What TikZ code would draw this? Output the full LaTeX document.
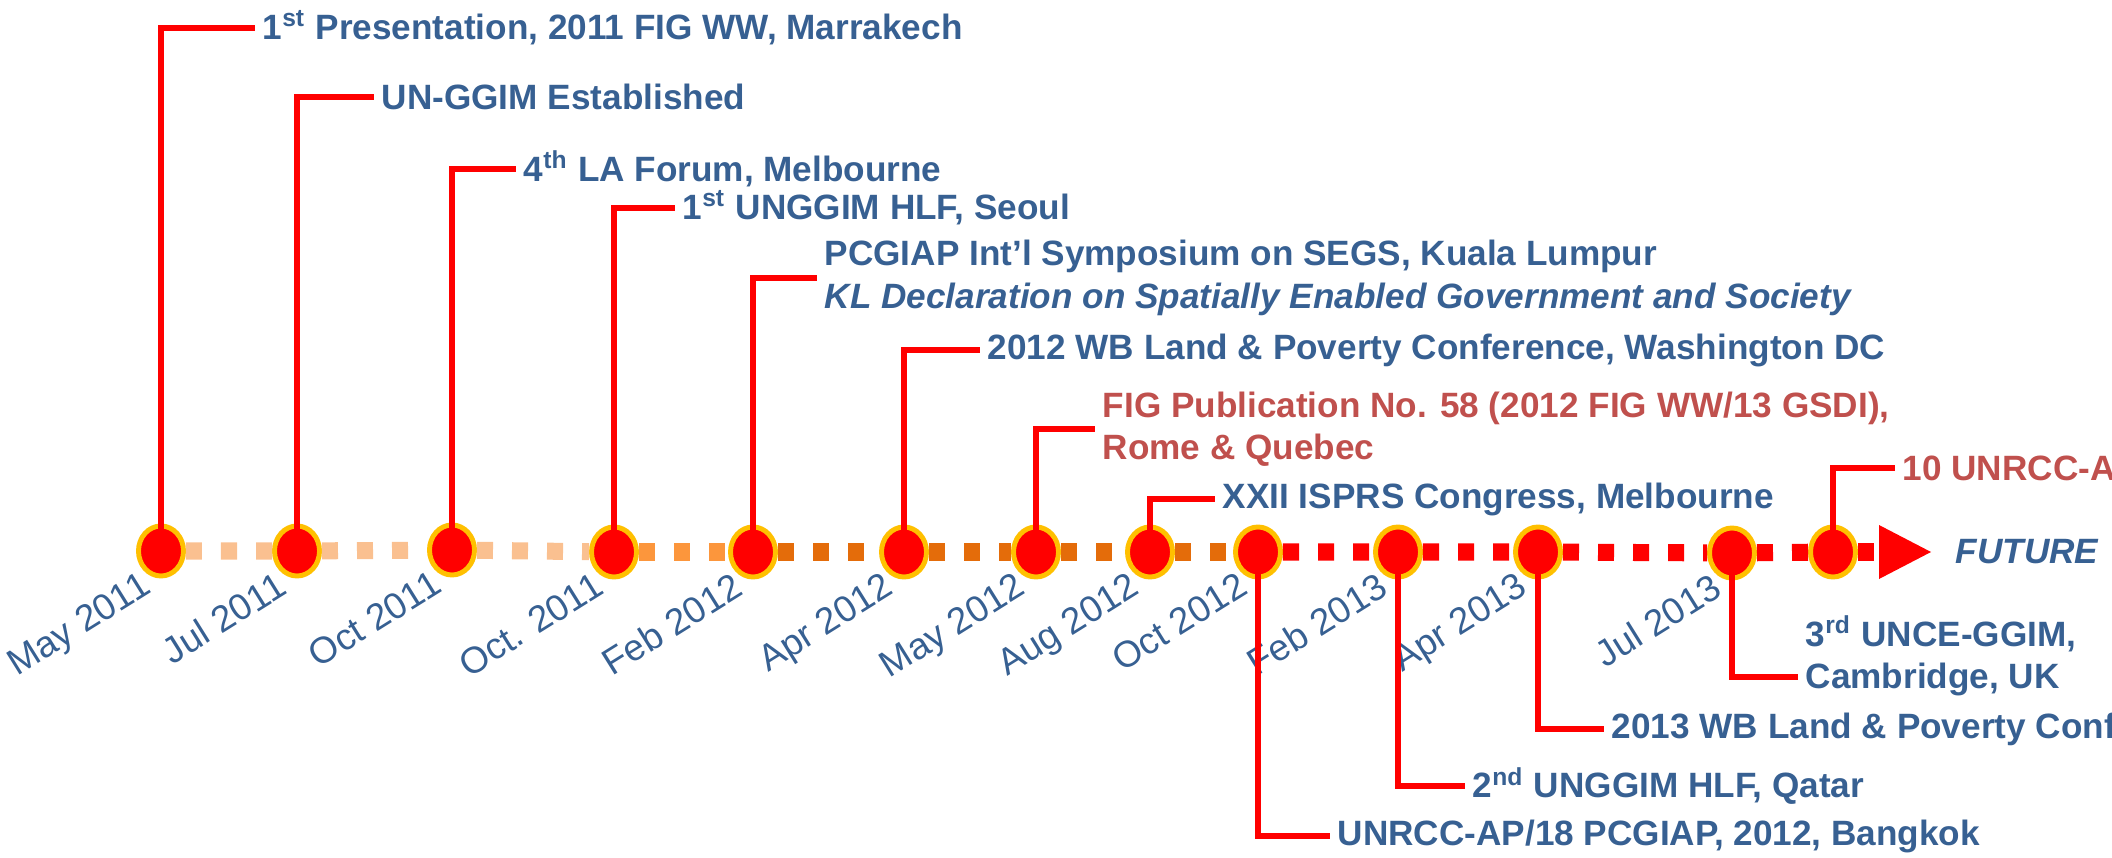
\documentclass[tikz,border=0pt]{standalone}
\usepackage{fontspec}
\setmainfont{Liberation Sans}
\usepackage{tikz}
\usetikzlibrary{shapes.geometric}

\definecolor{TextBlue}{RGB}{55,96,146}
\definecolor{TextRed}{RGB}{192,80,77}
\definecolor{RingGold}{RGB}{255,192,0}
\definecolor{Peach}{RGB}{250,192,144}
\definecolor{LightOrange}{RGB}{252,150,60}
\definecolor{DarkOrange}{RGB}{228,108,10}

\begin{document}
\begin{tikzpicture}[x=0.01cm, y=-0.01cm]
    \tikzstyle{event-dot}=[ellipse, draw=RingGold, fill=red, line width=1.4pt, minimum width=0.45cm, minimum height=0.5cm, inner sep=0pt]
    \tikzstyle{event-text}=[anchor=west, inner sep=2pt, align=left, font=\fontsize{10}{12}\selectfont\bfseries, text=TextBlue]
    \tikzstyle{date-text}=[anchor=north east, inner sep=0pt, rotate=32, font=\fontsize{10.5}{12}\selectfont, text=TextBlue]
    \tikzstyle{timeline}=[line width=0.17cm, dash pattern=on 0.16cm off 0.19cm]
    \tikzstyle{link}=[red, line width=0.065cm]

    \useasboundingbox (0,0) rectangle (2112,858);

    % milestones
    \node[event-dot] (may-2011) at (161,551) {};
    \node[event-dot] (jul-2011) at (297,551) {};
    \node[event-dot] (oct-2011) at (452,550) {};
    \node[event-dot] (oct-2011-b) at (614,552) {};
    \node[event-dot] (feb-2012) at (753,552) {};
    \node[event-dot] (apr-2012) at (904,552) {};
    \node[event-dot] (may-2012) at (1036,552) {};
    \node[event-dot] (aug-2012) at (1150,552) {};
    \node[event-dot] (oct-2012) at (1258,552) {};
    \node[event-dot] (feb-2013) at (1398,552) {};
    \node[event-dot] (apr-2013) at (1538,552) {};
    \node[event-dot] (jul-2013) at (1732,553) {};
    \node[event-dot] (next-event) at (1833,552) {};

    % dashed time axis
    \draw[timeline, Peach] (may-2011) -- (jul-2011) (jul-2011) -- (oct-2011) (oct-2011) -- (oct-2011-b);
    \draw[timeline, LightOrange] (oct-2011-b) -- (feb-2012);
    \draw[timeline, DarkOrange] (feb-2012) -- (apr-2012) (apr-2012) -- (may-2012) (may-2012) -- (aug-2012) (aug-2012) -- (oct-2012);
    \draw[timeline, red] (oct-2012) -- (feb-2013) (feb-2013) -- (apr-2013) (apr-2013) -- (jul-2013) (jul-2013) -- (next-event);
    \coordinate (future-tip) at (1879,552);
    \draw[timeline, red] (next-event) -- (future-tip);
    \fill[red] (1879,525) -- (1931,552) -- (1879,579) -- cycle;
    \node[event-text, font=\fontsize{10}{12}\selectfont\bfseries\itshape] (future) at (1948,552) {FUTURE};

    % dates
    \node[date-text] (date-may-2011) at (139,569) {May 2011};
    \node[date-text] (date-jul-2011) at (275,569) {Jul 2011};
    \node[date-text] (date-oct-2011) at (430,568) {Oct 2011};
    \node[date-text] (date-oct-2011-b) at (592,570) {Oct. 2011};
    \node[date-text] (date-feb-2012) at (731,570) {Feb 2012};
    \node[date-text] (date-apr-2012) at (882,570) {Apr 2012};
    \node[date-text] (date-may-2012) at (1014,570) {May 2012};
    \node[date-text] (date-aug-2012) at (1128,570) {Aug 2012};
    \node[date-text] (date-oct-2012) at (1236,570) {Oct 2012};
    \node[date-text] (date-feb-2013) at (1376,570) {Feb 2013};
    \node[date-text] (date-apr-2013) at (1516,570) {Apr 2013};
    \node[date-text] (date-jul-2013) at (1710,571) {Jul 2013};

    % events above the axis
    \node[event-text] (marrakech) at (255,28) {1\textsuperscript{st} Presentation, 2011 FIG WW, Marrakech};
    \node[event-text] (un-ggim) at (374,97) {UN-GGIM Established};
    \node[event-text] (la-forum) at (516,169) {4\textsuperscript{th} LA Forum, Melbourne};
    \node[event-text] (hlf-seoul) at (675,208) {1\textsuperscript{st} UNGGIM HLF, Seoul};
    \node[event-text] (kuala-lumpur) at (817,278) {PCGIAP Int’l Symposium on SEGS, Kuala Lumpur\\\textit{KL Declaration on Spatially Enabled Government and Society}};
    \node[event-text] (washington) at (980,350) {2012 WB Land \& Poverty Conference, Washington DC};
    \node[event-text, text=TextRed] (fig-publication) at (1095,429) {FIG Publication No. 58 (2012 FIG WW/13 GSDI),\\Rome \& Quebec};
    \node[event-text] (isprs) at (1215,499) {XXII ISPRS Congress, Melbourne};
    \node[event-text, text=TextRed] (unrcc-a) at (1895,468) {10 UNRCC-A};

    % events below the axis
    \node[event-text] (bangkok) at (1330,836) {UNRCC-AP/18 PCGIAP, 2012, Bangkok};
    \node[event-text] (qatar) at (1465,786) {2\textsuperscript{nd} UNGGIM HLF, Qatar};
    \node[event-text] (wb-2013) at (1604,729) {2013 WB Land \& Poverty Conf};
    \node[event-text] (unce-ggim) at (1798,656) {3\textsuperscript{rd} UNCE-GGIM,\\Cambridge, UK};

    % links
    \draw[link] (may-2011.center) |- (marrakech.west);
    \draw[link] (jul-2011.center) |- (un-ggim.west);
    \draw[link] (oct-2011.center) |- (la-forum.west);
    \draw[link] (oct-2011-b.center) |- (hlf-seoul.west);
    \draw[link] (feb-2012.center) |- (kuala-lumpur.west);
    \draw[link] (apr-2012.center) |- (washington.west);
    \draw[link] (may-2012.center) |- (fig-publication.west);
    \draw[link] (aug-2012.center) |- (isprs.west);
    \draw[link] (next-event.center) |- (unrcc-a.west);
    \draw[link] (oct-2012.center) |- (bangkok.west);
    \draw[link] (feb-2013.center) |- (qatar.west);
    \draw[link] (apr-2013.center) |- (wb-2013.west);
    \draw[link] (jul-2013.center) |- ([yshift=-6pt]unce-ggim.west);
\end{tikzpicture}
\end{document}
